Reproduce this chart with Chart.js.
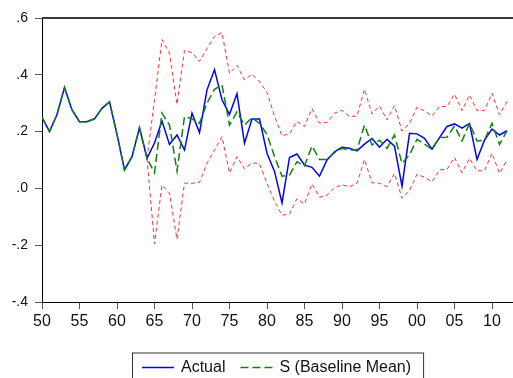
<!DOCTYPE html>
<html>
<head>
<meta charset="utf-8">
<script src="https://cdn.jsdelivr.net/npm/chart.js@4/dist/chart.umd.min.js"></script>
<style>
  html, body { margin: 0; padding: 0; background: #fff; overflow: hidden; }
  canvas { display: block; }
</style>
</head>
<body>
<canvas id="chart" width="513" height="378"></canvas>
<script>
// Annual observations, 1950-2012
const years = [
  1950, 1951, 1952, 1953, 1954, 1955, 1956, 1957, 1958, 1959,
  1960, 1961, 1962, 1963, 1964, 1965, 1966, 1967, 1968, 1969,
  1970, 1971, 1972, 1973, 1974, 1975, 1976, 1977, 1978, 1979,
  1980, 1981, 1982, 1983, 1984, 1985, 1986, 1987, 1988, 1989,
  1990, 1991, 1992, 1993, 1994, 1995, 1996, 1997, 1998, 1999,
  2000, 2001, 2002, 2003, 2004, 2005, 2006, 2007, 2008, 2009,
  2010, 2011, 2012
];

const actual = [
  0.250, 0.200, 0.260, 0.355, 0.276, 0.235, 0.235, 0.245, 0.282, 0.305,
  0.190, 0.065, 0.112, 0.213, 0.106, 0.160, 0.237, 0.155, 0.188, 0.135,
  0.265, 0.196, 0.347, 0.418, 0.312, 0.261, 0.333, 0.159, 0.244, 0.244,
  0.124, 0.060, -0.051, 0.109, 0.121, 0.082, 0.074, 0.043, 0.100, 0.129,
  0.145, 0.141, 0.132, 0.156, 0.176, 0.145, 0.173, 0.149, 0.008, 0.194,
  0.192, 0.176, 0.138, 0.179, 0.218, 0.227, 0.212, 0.229, 0.102, 0.170,
  0.209, 0.188, 0.203
];

const baselineMean = [
  0.250, 0.200, 0.260, 0.355, 0.276, 0.235, 0.235, 0.245, 0.282, 0.305,
  0.190, 0.065, 0.112, 0.213, 0.106, 0.055, 0.265, 0.223, 0.061, 0.253,
  0.245, 0.229, 0.300, 0.349, 0.365, 0.223, 0.270, 0.223, 0.249, 0.229,
  0.190, 0.112, 0.043, 0.047, 0.094, 0.079, 0.149, 0.102, 0.102, 0.126,
  0.141, 0.135, 0.135, 0.223, 0.153, 0.170, 0.141, 0.188, 0.088, 0.118,
  0.173, 0.156, 0.138, 0.179, 0.180, 0.220, 0.167, 0.229, 0.167, 0.170,
  0.229, 0.155, 0.203
];

const upperBand = [
  null, null, null, null, null, null, null, null, null, null,
  null, null, null, null, 0.106, 0.310, 0.524, 0.476, 0.296, 0.486,
  0.478, 0.447, 0.492, 0.535, 0.549, 0.405, 0.433, 0.382, 0.402, 0.376,
  0.338, 0.255, 0.185, 0.192, 0.236, 0.218, 0.281, 0.230, 0.232, 0.265,
  0.275, 0.253, 0.255, 0.349, 0.262, 0.290, 0.241, 0.292, 0.202, 0.229,
  0.286, 0.273, 0.255, 0.288, 0.288, 0.332, 0.274, 0.329, 0.274, 0.274,
  0.335, 0.259, 0.306
];

const lowerBand = [
  null, null, null, null, null, null, null, null, null, null,
  null, null, null, null, 0.106, -0.195, 0.012, -0.017, -0.179, 0.019,
  0.018, 0.021, 0.088, 0.135, 0.182, 0.054, 0.112, 0.069, 0.090, 0.087,
  0.018, -0.045, -0.094, -0.091, -0.036, -0.055, 0.016, -0.031, -0.024, 0.002,
  0.013, 0.006, 0.018, 0.102, 0.020, 0.018, 0.006, 0.053, -0.035, -0.008,
  0.050, 0.039, 0.023, 0.065, 0.067, 0.109, 0.055, 0.106, 0.062, 0.062,
  0.124, 0.053, 0.100
];

// Axis ticks
const xTickYears = [1950, 1955, 1960, 1965, 1970, 1975, 1980, 1985, 1990, 1995, 2000, 2005, 2010];
const xTickLabels = ['50', '55', '60', '65', '70', '75', '80', '85', '90', '95', '00', '05', '10'];
const yTickValues = [-0.4, -0.2, 0.0, 0.2, 0.4, 0.6];
const yTickLabels = ['-.4', '-.2', '.0', '.2', '.4', '.6'];

const FONT = '"Liberation Sans", Arial, Helvetica, sans-serif';

const toPoints = vals => years.map((yr, i) => ({ x: yr, y: vals[i] }));

// Dark top rule of the plot frame
const frameRule = {
  id: 'frameRule',
  afterDatasetsDraw(chart) {
    const { ctx, chartArea: a } = chart;
    ctx.save();
    ctx.strokeStyle = '#3a3a3a';
    ctx.lineWidth = 2;
    ctx.beginPath();
    ctx.moveTo(a.left, a.top);
    ctx.lineTo(a.right, a.top);
    ctx.stroke();
    ctx.restore();
  }
};

// Boxed legend under the axis, listing only the two main series
const boxedLegend = {
  id: 'boxedLegend',
  afterDraw(chart) {
    const ctx = chart.ctx;
    const entries = chart.data.datasets.filter(d => d.inLegend);
    const boxLeft = 132, boxTop = 352.5, midY = 367.5;
    const sampleLen = 32, sampleGap = 7, itemGap = 15, padL = 10, padR = 12;
    ctx.save();
    ctx.font = '16px ' + FONT;
    ctx.textBaseline = 'middle';
    let x = boxLeft + padL;
    entries.forEach((d, i) => {
      ctx.beginPath();
      ctx.strokeStyle = d.borderColor;
      ctx.lineWidth = d.borderWidth;
      ctx.setLineDash(d.borderDash || []);
      ctx.moveTo(x, midY);
      ctx.lineTo(x + sampleLen, midY);
      ctx.stroke();
      ctx.setLineDash([]);
      x += sampleLen + sampleGap;
      ctx.fillStyle = '#111';
      ctx.fillText(d.label, x, midY);
      x += ctx.measureText(d.label).width;
      if (i < entries.length - 1) x += itemGap;
    });
    const boxRight = x + padR;
    ctx.strokeStyle = '#333';
    ctx.lineWidth = 1;
    ctx.strokeRect(boxLeft + 0.5, boxTop + 0.5, boxRight - boxLeft, 60);
    ctx.restore();
  }
};

new Chart(document.getElementById('chart'), {
  type: 'line',
  data: {
    datasets: [
      {
        label: 'Actual',
        inLegend: true,
        data: toPoints(actual),
        borderColor: '#0000ff',
        borderWidth: 1.5,
        pointRadius: 0,
        tension: 0,
        order: 1
      },
      {
        label: 'S (Baseline Mean)',
        inLegend: true,
        data: toPoints(baselineMean),
        borderColor: '#0b830b',
        borderWidth: 1.5,
        borderDash: [8, 4],
        pointRadius: 0,
        tension: 0,
        order: 0
      },
      {
        label: 'Upper',
        data: toPoints(upperBand),
        borderColor: '#ff2e2e',
        borderWidth: 1,
        borderDash: [4, 3],
        pointRadius: 0,
        tension: 0,
        order: 2
      },
      {
        label: 'Lower',
        data: toPoints(lowerBand),
        borderColor: '#ff2e2e',
        borderWidth: 1,
        borderDash: [4, 3],
        pointRadius: 0,
        tension: 0,
        order: 2
      }
    ]
  },
  options: {
    responsive: false,
    animation: false,
    devicePixelRatio: 1,
    layout: { padding: { top: 18, left: 0, right: 0, bottom: 0 } },
    plugins: {
      legend: { display: false },
      tooltip: { enabled: false }
    },
    scales: {
      x: {
        type: 'linear',
        min: 1950,
        max: 2012.8,
        afterBuildTicks: s => { s.ticks = xTickYears.map(v => ({ value: v })); },
        afterFit: s => { s.height = 76; },
        ticks: {
          autoSkip: false,
          maxRotation: 0,
          padding: 3,
          color: '#111',
          font: { family: FONT, size: 16 },
          callback: v => xTickLabels[xTickYears.indexOf(v)]
        },
        grid: { drawOnChartArea: false, tickLength: 7, color: '#555' },
        border: { color: '#000', width: 1 }
      },
      y: {
        min: -0.4,
        max: 0.6,
        afterBuildTicks: s => { s.ticks = yTickValues.map(v => ({ value: v })); },
        afterFit: s => { s.width = 42; },
        ticks: {
          padding: 7,
          color: '#111',
          font: { family: FONT, size: 14 },
          callback: (v, i) => yTickLabels[i]
        },
        grid: { drawOnChartArea: false, tickLength: 7, color: '#555' },
        border: { color: '#000', width: 1 }
      }
    }
  },
  plugins: [frameRule, boxedLegend]
});
</script>
</body>
</html>
